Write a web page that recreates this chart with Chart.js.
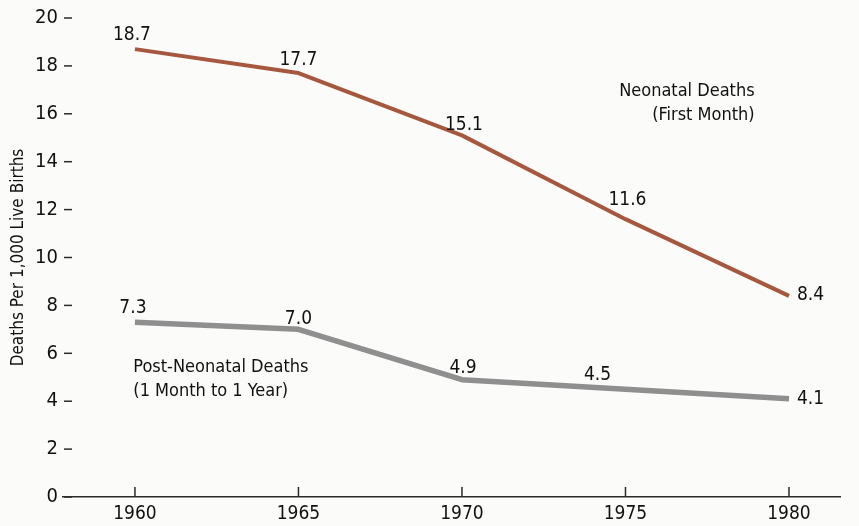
<!DOCTYPE html>
<html>
<head>
<meta charset="utf-8">
<script src="https://cdn.jsdelivr.net/npm/chart.js@4.4.1/dist/chart.umd.min.js"></script>
<style>
  html, body { margin: 0; padding: 0; background: #fbfbf9; }
  #wrap { width: 859px; height: 526px; position: relative; }
</style>
</head>
<body>
<div id="wrap"><canvas id="deaths-chart"></canvas></div>
<script>
const years = [1960, 1965, 1970, 1975, 1980];
const neonatal = [18.7, 17.7, 15.1, 11.6, 8.4];
const postNeonatal = [7.3, 7.0, 4.9, 4.5, 4.1];
const yTicks = [0, 2, 4, 6, 8, 10, 12, 14, 16, 18, 20];

// where each value label sits relative to its point: [dx, dy, align]
const neonatalLabelPos = [[-3, -14, 'center'], [0, -13, 'center'], [2, -10, 'center'], [2, -19, 'center'], [8, -1, 'left']];
const postLabelPos = [[-2, -14, 'center'], [0, -10, 'center'], [1, -12, 'center'], [-28, -14, 'center'], [8, 0, 'left']];

// series captions, placed in data units
const captions = [
  { lines: ['Neonatal Deaths', '(First Month)'], x: 1978.95, y: 16.45, align: 'right' },
  { lines: ['Post-Neonatal Deaths', '(1 Month to 1 Year)'], x: 1959.95, y: 4.9, align: 'left' }
];

const FONT = "'Liberation Sans Narrow', 'Arial Narrow', 'DejaVu Sans Condensed', sans-serif";
const INK = '#111';

// value labels, axis tick marks and captions
const annotate = {
  id: 'annotate',
  afterDatasetsDraw(chart) {
    const { ctx, chartArea, scales } = chart;
    const xs = scales.x, ys = scales.y;
    ctx.save();
    ctx.strokeStyle = '#2a2a2a';
    ctx.lineWidth = 1.5;
    // short dashes next to the y labels
    yTicks.forEach(v => {
      const y = ys.getPixelForValue(v);
      ctx.beginPath();
      ctx.moveTo(chartArea.left + 1, y);
      ctx.lineTo(chartArea.left + 9, y);
      ctx.stroke();
    });
    // upward ticks on the x axis
    years.forEach(v => {
      const x = xs.getPixelForValue(v);
      ctx.beginPath();
      ctx.moveTo(x, chartArea.bottom);
      ctx.lineTo(x, chartArea.bottom - 10);
      ctx.stroke();
    });

    ctx.fillStyle = INK;
    ctx.textBaseline = 'middle';
    ctx.font = '19px ' + FONT;
    const values = [neonatal, postNeonatal];
    const pos = [neonatalLabelPos, postLabelPos];
    values.forEach((vals, di) => {
      const meta = chart.getDatasetMeta(di);
      meta.data.forEach((pt, i) => {
        const [dx, dy, align] = pos[di][i];
        ctx.textAlign = align;
        ctx.fillText(vals[i].toFixed(1), pt.x + dx, pt.y + dy);
      });
    });

    ctx.font = '18px ' + FONT;
    captions.forEach(c => {
      ctx.textAlign = c.align;
      const x = xs.getPixelForValue(c.x);
      const y = ys.getPixelForValue(c.y);
      c.lines.forEach((t, k) => ctx.fillText(t, x, y + k * 24 - 12));
    });
    ctx.restore();
  }
};

const toPoints = vals => vals.map((v, i) => ({ x: years[i], y: v }));

new Chart('deaths-chart', {
  type: 'line',
  data: {
    datasets: [
      {
        label: 'Neonatal Deaths (First Month)',
        data: toPoints(neonatal),
        borderColor: '#a6583f',
        borderWidth: 4,
        borderCapStyle: 'butt',
        borderJoinStyle: 'round',
        pointRadius: 0,
        tension: 0
      },
      {
        label: 'Post-Neonatal Deaths (1 Month to 1 Year)',
        data: toPoints(postNeonatal),
        borderColor: '#8f8f8f',
        borderWidth: 5.5,
        borderCapStyle: 'butt',
        borderJoinStyle: 'round',
        pointRadius: 0,
        tension: 0
      }
    ]
  },
  options: {
    responsive: true,
    maintainAspectRatio: false,
    animation: false,
    events: [],
    layout: { padding: { top: 18, right: 19, left: 0, bottom: 0 } },
    plugins: {
      legend: { display: false },
      tooltip: { enabled: false }
    },
    scales: {
      x: {
        type: 'linear',
        min: 1957.8,
        max: 1981.56,
        afterBuildTicks: s => { s.ticks = years.map(v => ({ value: v })); },
        afterFit: s => { s.height = 29; },
        grid: { display: false, drawTicks: false },
        border: { display: true, color: '#2a2a2a', width: 1.5 },
        ticks: {
          color: INK,
          font: { family: FONT, size: 19 },
          padding: 6,
          maxRotation: 0,
          callback: v => String(v)
        }
      },
      y: {
        min: 0,
        max: 20,
        afterBuildTicks: s => { s.ticks = yTicks.map(v => ({ value: v })); },
        afterFit: s => { s.width = 63; },
        grid: { display: false, drawTicks: false },
        border: { display: false },
        ticks: {
          color: INK,
          font: { family: FONT, size: 20 },
          padding: 5
        },
        title: {
          display: true,
          text: 'Deaths Per 1,000 Live Births',
          color: INK,
          font: { family: FONT, size: 17 },
          padding: { top: 8, bottom: 0 }
        }
      }
    }
  },
  plugins: [annotate]
});
</script>
</body>
</html>
